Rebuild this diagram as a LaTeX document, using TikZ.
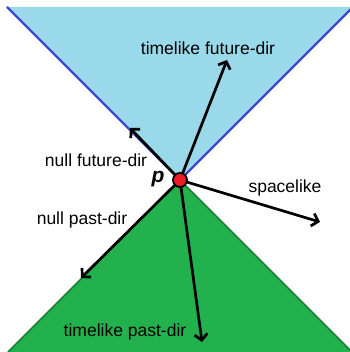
\documentclass[tikz,border=0pt]{standalone}
\usepackage{fontspec}
\setmainfont{Liberation Sans}
\usetikzlibrary{arrows.meta}
\definecolor{conefill}{HTML}{99D9EA}
\definecolor{coneline}{HTML}{3F48CC}
\definecolor{pastfill}{HTML}{22B14C}
\definecolor{pastline}{HTML}{1A7F35}
\definecolor{pointred}{HTML}{ED1C24}
\tikzset{
  vec/.style={line width=2.7pt, -{Straight Barb[length=6pt,width=13pt,line width=2.7pt]}},
  lbl/.style={font=\fontsize{17.5}{19}\selectfont, inner sep=0pt},
}
\begin{document}
\begin{tikzpicture}[x=1pt,y=-1pt]
\useasboundingbox (0,0) rectangle (349,352);
\coordinate (p) at (180,180);
\coordinate (tl) at (7,7);
\coordinate (tr) at (353,7);
\coordinate (bl) at (8,352);
\coordinate (br) at (352,352);
\fill[conefill] (p) -- (tl) -- (tr) -- cycle;
\draw[coneline, line width=2.4pt] (tl) -- (p) -- (tr);
\fill[pastfill] (p) -- (bl) -- (br) -- cycle;
\draw[pastline, line width=1.5pt] (bl) -- (p) -- (br);
\coordinate (tf) at (227,60);
\coordinate (nf) at (130,128);
\coordinate (sp) at (320,222);
\coordinate (np) at (81,278);
\coordinate (tp) at (202,342);
\draw[vec] (p) -- (tf);
\draw[vec] (p) -- (nf);
\draw[vec] (p) -- (sp);
\draw[vec] (p) -- (np);
\draw[vec] (p) -- (tp);
\node[circle, fill=pointred, draw=black, line width=1.8pt, minimum size=14pt, inner sep=0pt] (pdot) at (p) {};
\node[lbl] (ltf) at (208,48) {timelike future-dir};
\node[lbl] (lnf) at (96,160) {null future-dir};
\node[lbl, font=\fontsize{21}{23}\selectfont\bfseries\itshape] (lp) at (158,179) {p};
\node[lbl] (lsp) at (285,188) {spacelike};
\node[lbl] (lnp) at (82,220) {null past-dir};
\node[lbl] (ltp) at (125,332) {timelike past-dir};
\end{tikzpicture}
\end{document}
